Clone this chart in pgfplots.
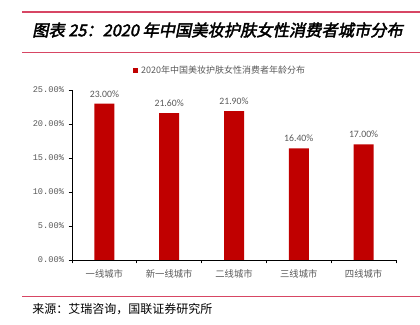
\documentclass[border=0pt]{standalone}
\usepackage{fontspec}
\usepackage{pgfplots}
\pgfplotsset{compat=1.18}
\setmainfont{Carlito}
\newfontfamily\cjk{Noto Sans CJK SC}
\newfontfamily\cjkt[FakeSlant=0.2,FakeBold=2.5]{Noto Sans CJK SC}
\newfontfamily\monof{Liberation Mono}
\definecolor{barred}{HTML}{C00000}
\definecolor{linered}{RGB}{215,70,100}
\definecolor{txtgray}{HTML}{595959}
\begin{document}
\begin{tikzpicture}
\path[use as bounding box] (0,0) rectangle (315pt,243pt);
\draw[linered, line width=0.8pt] (16.5pt,234pt) -- (315pt,234pt);
\draw[linered, line width=0.8pt] (16.5pt,203.8pt) -- (315pt,203.8pt);
\draw[linered, line width=0.8pt] (16.5pt,20.8pt) -- (315pt,20.8pt);
\node[font=\cjkt\fontsize{12.2}{14}\selectfont, anchor=west, inner sep=0] at (24pt,220.5pt) {图表 25：2020 年中国美妆护肤女性消费者城市分布};
\node[font=\cjk\fontsize{9}{11}\selectfont, anchor=west, inner sep=0] at (24pt,11.25pt) {来源：艾瑞咨询，国联证券研究所};
\begin{axis}[
  at={(54pt,48pt)}, anchor=south west,
  scale only axis, width=243pt, height=127.5pt,
  axis lines*=left,
  axis line style={black, line width=0.6pt},
  xmin=-0.5, xmax=4.5, ymin=0, ymax=25,
  xtick={0,1,2,3,4},
  xticklabels={一线城市,新一线城市,二线城市,三线城市,四线城市},
  major x tick style={draw=none},
  minor xtick={-0.5,0.5,1.5,2.5,3.5,4.5},
  minor tick length=2.5pt,
  minor x tick style={black, line width=0.6pt},
  ytick={0,5,10,15,20,25},
  yticklabels={0.00\%,5.00\%,10.00\%,15.00\%,20.00\%,25.00\%},
  major tick length=2.5pt,
  tick align=outside,
  ytick style={black, line width=0.6pt},
  xticklabel style={font=\cjk\fontsize{7}{8}\selectfont, text=txtgray, yshift=-1pt},
  yticklabel style={font=\monof\fontsize{6.5}{8}\selectfont, text=txtgray},
  legend style={at={(0.458,1.114)}, anchor=center, draw=none, fill=none,
    font=\cjk\fontsize{6.75}{8}\selectfont, text=txtgray, inner sep=0pt},
  legend image code/.code={\fill[barred] (0pt,-2pt) rectangle (4pt,2pt);},
  /pgf/number format/assume math mode=true,
  nodes near coords={\pgfmathprintnumber[fixed,fixed zerofill,precision=2,assume math mode=true]{\pgfplotspointmeta}\%},
  nodes near coords style={font=\fontsize{7.3}{8}\selectfont, text=txtgray, anchor=base, inner sep=0pt, yshift=4.9pt},
]
\addplot[ybar, bar width=15pt, fill=barred, draw=none] coordinates {(0,23.0) (1,21.6) (2,21.9) (3,16.4) (4,17.0)};
\addlegendentry{2020年中国美妆护肤女性消费者年龄分布}
\end{axis}
\end{tikzpicture}
\end{document}
